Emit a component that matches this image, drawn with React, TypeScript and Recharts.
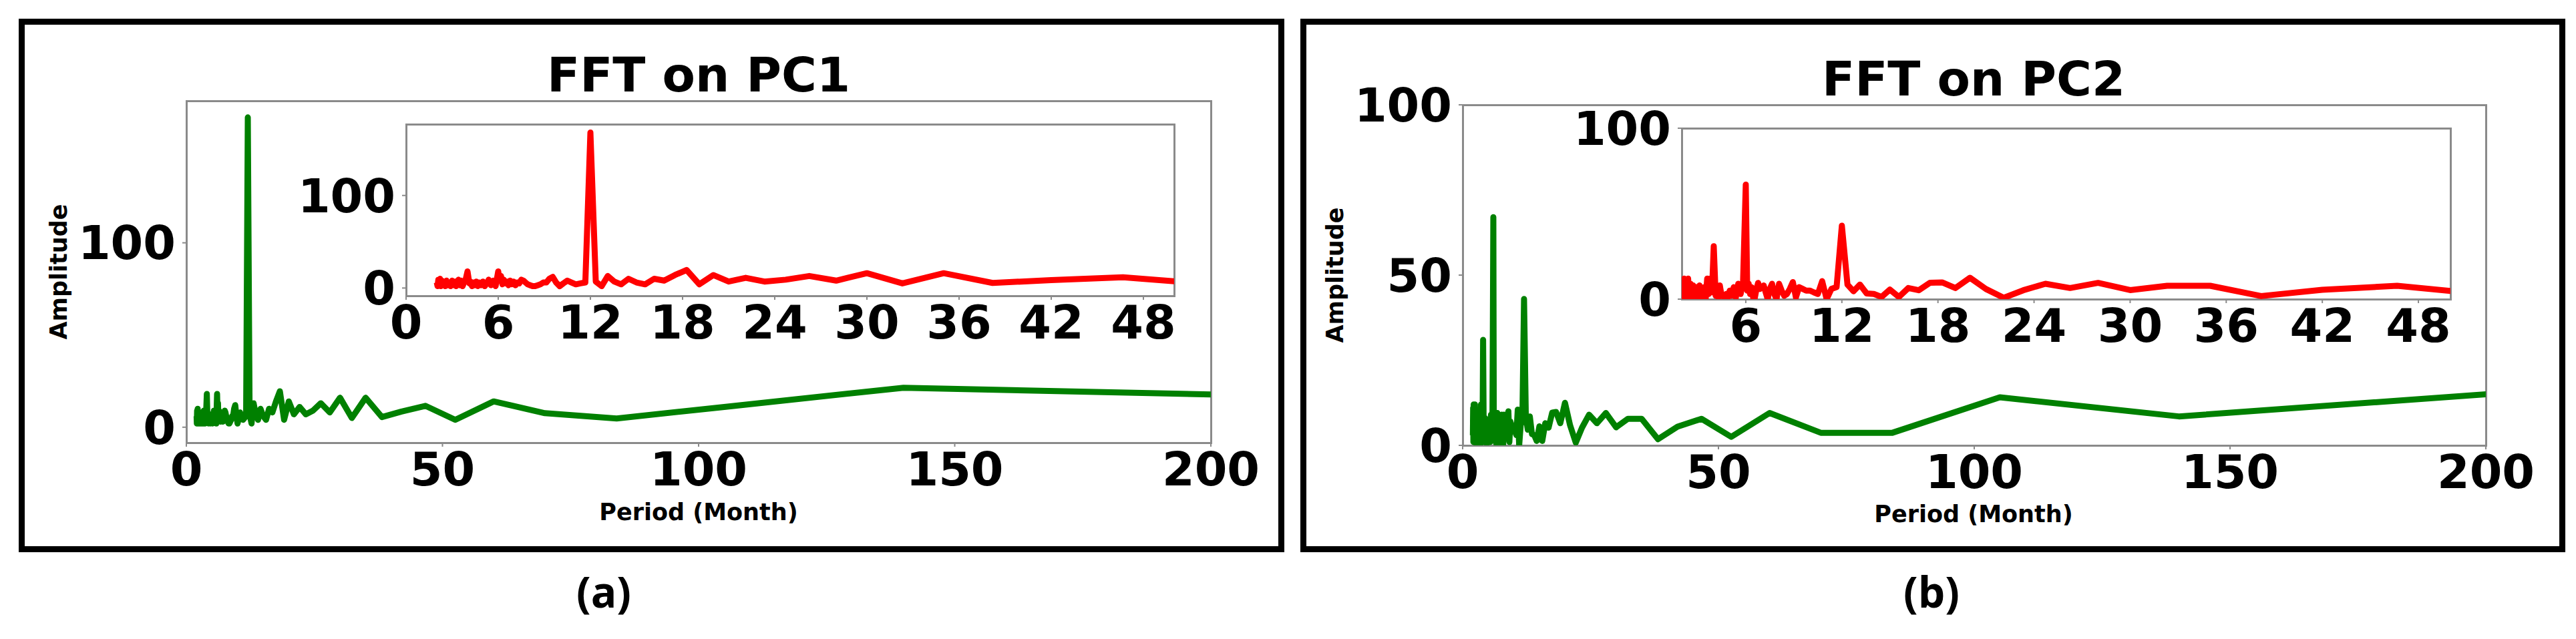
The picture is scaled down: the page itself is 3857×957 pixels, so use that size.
import React from 'react';
import { LineChart, Line, XAxis, YAxis } from 'recharts';

// periods in months (shared by both components)
const periods = [
  2.0, 2.05, 2.1, 2.15, 2.21, 2.27, 2.33, 2.4, 2.47, 2.55, 2.63, 2.71, 2.8, 2.9, 3.0, 3.11, 3.18, 3.26, 3.33, 3.41,
  3.5, 3.59, 3.68, 3.78, 3.89, 4.0, 4.12, 4.2, 4.29, 4.38, 4.47, 4.57, 4.67, 4.77, 4.88, 5.0, 5.12, 5.25, 5.38, 5.53,
  5.68, 5.83,
  6.0, 6.09, 6.18, 6.27, 6.36, 6.46, 6.56, 6.67, 6.77, 6.89, 7.0, 7.12, 7.24, 7.37, 7.5, 7.64, 7.78, 7.92, 8.08, 8.24,
  8.4, 8.57, 8.75, 8.94, 9.13, 9.33, 9.55, 9.77, 10.0, 10.24, 10.5, 10.77, 11.05, 11.35, 11.67,
  12.0, 12.35, 12.73, 13.13, 13.55, 14.0, 14.48, 15.0, 15.56, 16.15, 16.8, 17.5, 18.26, 19.09, 20.0, 21.0, 22.11,
  23.33, 24.71, 26.25, 28.0, 30.0, 32.31, 35.0, 38.18, 42.0, 46.67, 52.5, 60.0, 70.0, 84.0, 105.0, 140.0, 210.0,
];

const pc1Amp = [
  6, 2, 9, 3, 10, 2, 8, 4, 7, 2, 8, 3, 6, 2, 8, 3, 7, 2, 6, 9,
  3, 8, 2, 6, 10, 18, 5, 7, 2, 6, 3, 7, 2, 6, 3, 7, 2, 5, 9, 3,
  8, 2,
  18, 8, 13, 4, 9, 5, 7, 3, 8, 4, 7, 3, 6, 5, 9, 8, 6, 4, 3, 2,
  2, 3, 4, 6, 6, 10, 12, 6, 2, 5, 8, 6, 4, 5, 6,
  168, 7, 2, 13, 7, 4, 10, 6, 4, 10, 8, 14, 19.5, 4, 14, 7, 11,
  7, 9, 13, 8, 16, 5, 16, 5.5, 8.5, 11.6, 4, 14, 7.6, 4.7, 11, 21.4, 17.2,
];

const pc2Amp = [
  3, 11, 1, 12, 3, 10, 1, 12, 2, 9, 0.5, 8, 2, 7, 0.5, 8, 2, 6, 1, 7,
  0.5, 12, 3, 12, 4, 31, 2, 8, 1, 8, 3, 2, 0.5, 3, 1, 5, 2, 7, 1, 9,
  3, 10,
  67, 5, 9, 3, 7, 1, 0.5, 6, 9.5, 6, 7, 8, 4, 0, 6, 9, 3, 0, 9, 5,
  2, 3, 6, 10, 1, 7, 6, 5, 5, 4, 3, 10.5, 0, 6, 7,
  43, 8.5, 4.6, 8.5, 3.3, 3, 1.3, 5.6, 1.3, 6.5, 5.2, 9.6, 9.8, 6.5, 12.5, 5.9, 0.8,
  5.2, 9, 6.5, 9.5, 5.3, 7.8, 7.8, 1.8, 5.5, 7.8, 2.5, 9.5, 3.7, 3.7, 14.1, 8.5, 16.1,
];

const mainTicksX = [0, 50, 100, 150, 200];
const insetTicksXA = [0, 6, 12, 18, 24, 30, 36, 42, 48];
const insetTicksXB = [6, 12, 18, 24, 30, 36, 42, 48];
const pc1TicksY = [0, 100];
const pc2TicksY = [0, 50, 100];
const insetTicksY = [0, 100];

const pc1Data = periods.map((p, i) => ({ period: p, amp: pc1Amp[i] }));
const pc2Data = periods.map((p, i) => ({ period: p, amp: pc2Amp[i] }));

const FONT = '"DejaVu Sans", sans-serif';
const SPINE = '#8a8a8a';

const tickStyle = { fill: '#000', fontSize: 70, fontWeight: 700, fontFamily: FONT };

type Box = { left: number; top: number; width: number; height: number };

function Plot(props: {
  box: Box;
  data: { period: number; amp: number }[];
  color: string;
  xDomain: [number, number];
  yDomain: [number, number];
  xTicks: number[];
  yTicks: number[];
}) {
  const { box, data, color, xDomain, yDomain, xTicks, yTicks } = props;
  const yw = 220;
  const padTop = 60;
  const padRight = 120;
  const xh = 110;
  return (
    <>
      <div
        style={{
          position: 'absolute',
          left: box.left - 1.5,
          top: box.top - 1.5,
          width: box.width + 3,
          height: box.height + 3,
          border: `3px solid ${SPINE}`,
          boxSizing: 'border-box',
          background: '#fff',
        }}
      />
      <div style={{ position: 'absolute', left: box.left - yw, top: box.top - padTop }}>
        <LineChart
          width={yw + box.width + padRight}
          height={padTop + box.height + xh}
          data={data}
          margin={{ top: padTop, right: padRight, left: 0, bottom: 0 }}
        >
          <XAxis
            type="number"
            dataKey="period"
            domain={xDomain}
            ticks={xTicks}
            interval={0}
            allowDataOverflow
            height={xh}
            tickSize={6}
            tickMargin={8}
            axisLine={false}
            tickLine={{ stroke: SPINE, strokeWidth: 2 }}
            tick={tickStyle}
          />
          <YAxis
            type="number"
            domain={yDomain}
            ticks={yTicks}
            interval={0}
            allowDataOverflow
            width={yw}
            tickSize={6}
            tickMargin={10}
            axisLine={false}
            tickLine={{ stroke: SPINE, strokeWidth: 2 }}
            tick={tickStyle}
          />
          <Line
            dataKey="amp"
            stroke={color}
            strokeWidth={9}
            strokeLinejoin="round"
            dot={false}
            activeDot={false}
            isAnimationActive={false}
          />
        </LineChart>
      </div>
    </>
  );
}

export default function App() {
  return (
    <div style={{ position: 'absolute', left: 0, top: 0, width: 3857, height: 957, background: '#fff', overflow: 'hidden' }}>
      <div style={{ position: 'absolute', left: 28, top: 28, width: 1895, height: 799, border: '9px solid #000', boxSizing: 'border-box' }} />
      <div style={{ position: 'absolute', left: 1947, top: 28, width: 1894, height: 799, border: '9px solid #000', boxSizing: 'border-box' }} />

      <Plot
        box={{ left: 279, top: 151, width: 1534, height: 512 }}
        data={pc1Data}
        color="#008000"
        xDomain={[0, 200]}
        yDomain={[-8.4, 177]}
        xTicks={mainTicksX}
        yTicks={pc1TicksY}
      />
      <Plot
        box={{ left: 608, top: 186, width: 1150, height: 257 }}
        data={pc1Data}
        color="#ff0000"
        xDomain={[0, 50]}
        yDomain={[-8.4, 177]}
        xTicks={insetTicksXA}
        yTicks={insetTicksY}
      />
      <Plot
        box={{ left: 2190, top: 157, width: 1532, height: 510 }}
        data={pc2Data}
        color="#008000"
        xDomain={[0, 200]}
        yDomain={[0, 100]}
        xTicks={mainTicksX}
        yTicks={pc2TicksY}
      />
      <Plot
        box={{ left: 2518, top: 192, width: 1151, height: 256 }}
        data={pc2Data}
        color="#ff0000"
        xDomain={[2, 50]}
        yDomain={[0, 100]}
        xTicks={insetTicksXB}
        yTicks={insetTicksY}
      />

      <svg width={3857} height={957} style={{ position: 'absolute', left: 0, top: 0, pointerEvents: 'none' }}>
        <g fontFamily={FONT} fontWeight={700} fill="#000" textAnchor="middle">
          <text x={1046} y={137} fontSize={72}>FFT on PC1</text>
          <text x={2955} y={143} fontSize={72}>FFT on PC2</text>
          <text x={1046} y={779} fontSize={35}>Period (Month)</text>
          <text x={2955} y={782} fontSize={35}>Period (Month)</text>
          <text x={100} y={407} fontSize={35} transform="rotate(-90 100 407)">Amplitude</text>
          <text x={2011} y={412} fontSize={35} transform="rotate(-90 2011 412)">Amplitude</text>
        </g>
        <g fontFamily='"Open Sans", sans-serif' fontWeight={700} fill="#000" textAnchor="middle" fontSize={64}>
          <text x={904} y={910}>(a)</text>
          <text x={2892} y={910}>(b)</text>
        </g>
      </svg>
    </div>
  );
}
